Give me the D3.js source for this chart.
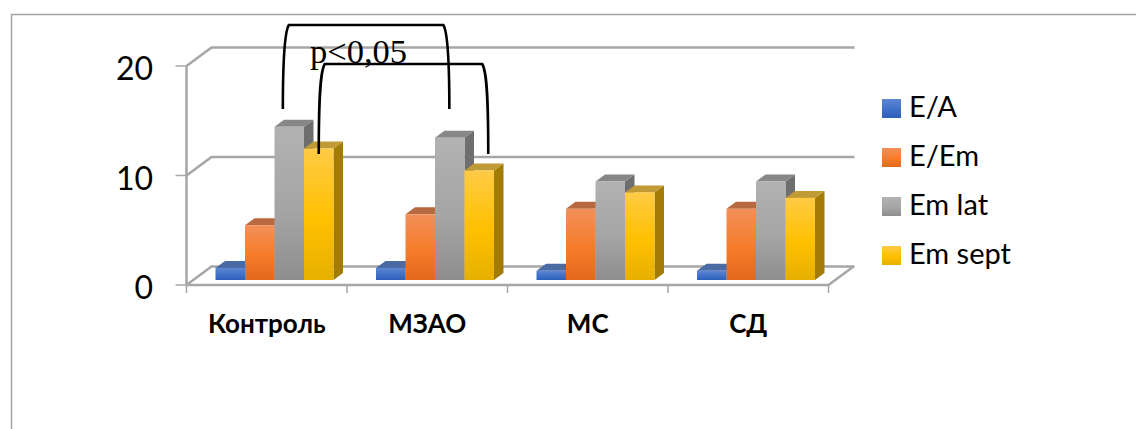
<!DOCTYPE html>
<html>
<head>
<meta charset="utf-8">
<script src="https://cdn.jsdelivr.net/npm/d3@7/dist/d3.min.js"></script>
<style>
html,body{margin:0;padding:0;background:#fff;overflow:hidden}
svg{display:block}
</style>
</head>
<body>
<svg id="chart" width="1136" height="429"></svg>
<script>
// Chart data
const categories = ["Контроль", "МЗАО", "МС", "СД"];
const seriesNames = ["E/A", "E/Em", "Em lat", "Em sept"];
const seriesEA = [1.1, 1.1, 0.85, 0.85];
const seriesEEm = [5.0, 6.0, 6.5, 6.5];
const seriesEmLat = [14.0, 13.0, 9.0, 9.0];
const seriesEmSept = [12.0, 10.0, 8.0, 7.5];
const yTicks = [0, 10, 20];
const annotation = "p<0,05";

const seriesValues = [seriesEA, seriesEEm, seriesEmLat, seriesEmSept];

// Fill colours per series: gradient stops, roof and side faces
const palette = [
  {stops:["#5f86d2","#3f70c8","#2d60bb"], roof:"#4a6aa3", side:"#2c4d8c"},
  {stops:["#f29058","#f67c2a","#e3681c"], roof:"#b8693f", side:"#a8501a"},
  {stops:["#b2b2b2","#a5a5a5","#8e8e8e"], roof:"#878787", side:"#6e6e6e"},
  {stops:["#ffcb45","#ffc000","#e6b000"], roof:"#c09a34", side:"#a27c06"}
];

const svg = d3.select("#chart");
const gridColor = "#a6a6a6";
const frameColor = "#a3a3a3";
const sans = "Lato, Carlito, 'Open Sans', sans-serif";

// Front plane scales; walls and bars are offset from them for the 3D look
const x0 = d3.scaleBand().domain(categories).range([186.5, 828.5]);
const x1 = d3.scaleBand().domain(seriesNames).range([29, 147]);
const y = d3.scaleLinear().domain([0, 20]).range([285, 66]);
const wallDepth = {dx: 25, dy: -18.5};
const barInset = -5;             // bars stand slightly behind the front edge of the floor
const barDepth = {dx: 9.5, dy: -7};

const defs = svg.append("defs");
palette.forEach((p, i) => {
  const g = defs.append("linearGradient").attr("id", "grad" + i)
    .attr("x1", 0).attr("x2", 0).attr("y1", 0).attr("y2", 1);
  g.selectAll("stop").data(p.stops).join("stop")
    .attr("offset", (d, k) => [0, 0.55, 1][k]).attr("stop-color", d => d);
});

// Outer frame, open at the right and bottom
svg.append("path")
  .attr("d", d3.line()([[11.5, 429], [11.5, 14.5], [1136, 14.5]]))
  .attr("fill", "none").attr("stroke", frameColor).attr("stroke-width", 1.5);

const plot = svg.append("g");
const [xL, xR] = x0.range();

// Back wall gridlines with their diagonals along the left wall
yTicks.forEach(t => {
  plot.append("path")
    .attr("d", d3.line()([[xL, y(t)], [xL + wallDepth.dx, y(t) + wallDepth.dy], [xR + wallDepth.dx + 1, y(t) + wallDepth.dy]]))
    .attr("fill", "none").attr("stroke", gridColor).attr("stroke-width", 2.5);
  plot.append("line")
    .attr("x1", xL - 11).attr("x2", xL).attr("y1", y(t)).attr("y2", y(t))
    .attr("stroke", gridColor).attr("stroke-width", 1.5);
  plot.append("text")
    .attr("x", 153).attr("y", y(t) + 14).attr("text-anchor", "end")
    .attr("font-family", sans).attr("font-size", 32).attr("fill", "#000").text(t);
});

// Left wall edge and floor front / right edges
plot.append("path")
  .attr("d", d3.line()([[xL, y(20)], [xL, y(0)], [xR, y(0)], [xR + wallDepth.dx, y(0) + wallDepth.dy]]))
  .attr("fill", "none").attr("stroke", gridColor).attr("stroke-width", 2.5);

// Category ticks below the floor
x0.domain().concat([null]).forEach((c, i) => {
  const px = xL + i * x0.step();
  plot.append("line").attr("x1", px).attr("x2", px).attr("y1", y(0)).attr("y2", y(0) + 8)
    .attr("stroke", gridColor).attr("stroke-width", 1.5);
});

// Bars, drawn left to right so that each covers its neighbour's side face
categories.forEach((cat, ci) => {
  const g = plot.append("g");
  seriesNames.forEach((name, si) => {
    const v = seriesValues[si][ci];
    const left = x0(cat) + x1(name);
    const w = x1.bandwidth();
    const top = y(v) + barInset;
    const base = y(0) + barInset;
    const {dx, dy} = barDepth;
    g.append("path")
      .attr("d", d3.line()([[left + w, top], [left + w + dx, top + dy], [left + w + dx, base + dy], [left + w, base]]) + "Z")
      .attr("fill", palette[si].side);
    g.append("path")
      .attr("d", d3.line()([[left, top], [left + dx, top + dy], [left + w + dx, top + dy], [left + w, top]]) + "Z")
      .attr("fill", palette[si].roof);
    g.append("rect")
      .attr("x", left).attr("y", top).attr("width", w).attr("height", base - top)
      .attr("fill", `url(#grad${si})`);
  });
  plot.append("text")
    .attr("x", x0(cat) + x0.bandwidth() / 2).attr("y", 333).attr("text-anchor", "middle")
    .attr("font-family", sans).attr("font-weight", 700).attr("font-size", 26)
    .attr("fill", "#000").text(cat);
});

// Legend
const legendY = d3.scalePoint().domain(seriesNames).range([99, 246]);
seriesNames.forEach((name, i) => {
  svg.append("rect").attr("x", 882).attr("y", legendY(name)).attr("width", 19).attr("height", 19)
    .attr("fill", `url(#grad${i})`);
  svg.append("text").attr("x", 909).attr("y", legendY(name) + 18)
    .attr("font-family", sans).attr("font-size", 29).attr("fill", "#000").text(name);
});

// Significance brackets, anchored on the compared bars
function bracket(xa, xb, yTop, yA, yB) {
  const p = d3.path();
  p.moveTo(xa, yA);
  p.bezierCurveTo(xa, yTop + 40, xa + 1, yTop + 8, xa + 6, yTop);
  p.lineTo(xb - 6, yTop);
  p.bezierCurveTo(xb - 1, yTop + 8, xb, yTop + 40, xb, yB);
  return p.toString();
}
const midLat = c => x0(c) + x1("Em lat") + x1.bandwidth() * 0.3;
const midSept = c => x0(c) + x1("Em sept") + x1.bandwidth() * 0.5;
const brackets = [
  bracket(midLat("Контроль") - 0.5, midLat("МЗАО") + 5.5, 25, 109, 109),
  bracket(midSept("Контроль"), midSept("МЗАО") + 9, 64, 154, 154)
];
svg.selectAll("path.bracket").data(brackets).join("path")
  .attr("class", "bracket").attr("d", d => d)
  .attr("fill", "none").attr("stroke", "#000").attr("stroke-width", 2.6);

svg.append("text").attr("x", 310).attr("y", 63)
  .attr("font-family", "'Liberation Serif', serif").attr("font-size", 34.5)
  .attr("fill", "#000").text(annotation);
</script>
</body>
</html>
